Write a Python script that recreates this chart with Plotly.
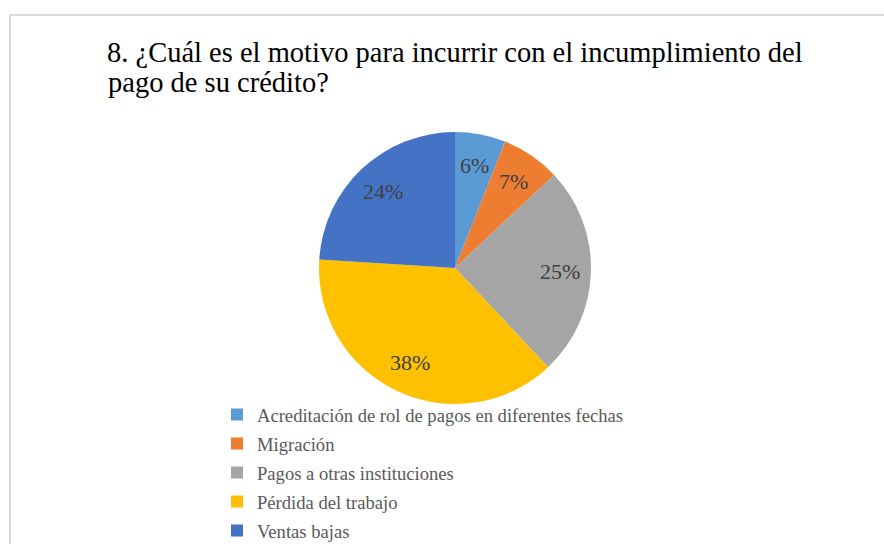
import math
import plotly.graph_objects as go

categories = [
    "Acreditación de rol de pagos en diferentes fechas",
    "Migración",
    "Pagos a otras instituciones",
    "Pérdida del trabajo",
    "Ventas bajas",
]
values = [6, 7, 25, 38, 24]
colors = ["#5B9BD5", "#ED7D31", "#A5A5A5", "#FFC000", "#4472C4"]
title_lines = [
    "8. ¿Cuál es el motivo para incurrir con el incumplimiento del",
    "pago de su crédito?",
]

W, H = 884, 544
CX, CY, R = 455, 268, 136  # pie centre / radius in pixels
LABEL_R = 0.77

legend_labels = ['<span style="font-size:18.6px">%s</span>' % c for c in categories]

fig = go.Figure(
    go.Pie(
        labels=legend_labels,
        values=values,
        sort=False,
        direction="clockwise",
        rotation=0,
        marker=dict(colors=colors, line=dict(width=0)),
        textinfo="none",
        domain=dict(x=[(CX - R) / W, (CX + R) / W], y=[1 - (CY + R) / H, 1 - (CY - R) / H]),
        hovertext=categories,
        hoverinfo="text+percent",
    )
)

# percentage labels placed along each slice's mid-angle
total = sum(values)
annotations = []
cum = 0
for v in values:
    mid = (cum + v / 2) / total * 2 * math.pi
    cum += v
    px = CX + LABEL_R * R * math.sin(mid)
    py = CY - LABEL_R * R * math.cos(mid)
    annotations.append(dict(
        x=px / W, y=1 - py / H, xref="paper", yref="paper",
        text="%d%%" % round(v / total * 100), showarrow=False,
        font=dict(family="Liberation Serif", size=22, color="#404040"),
        xanchor="center", yanchor="middle",
    ))

# second title line (tighter line spacing than plotly's multi-line titles)
annotations.append(dict(
    x=107 / W, y=1 - 82 / H, xref="paper", yref="paper",
    text=title_lines[1], showarrow=False,
    font=dict(family="Liberation Serif", size=28.5, color="#000000"),
    xanchor="left", yanchor="middle", borderpad=0,
))

fig.update_layout(
    width=W,
    height=H,
    margin=dict(l=0, r=0, t=0, b=0, autoexpand=False),
    paper_bgcolor="white",
    plot_bgcolor="white",
    font=dict(family="Liberation Serif"),
    title=dict(
        text=title_lines[0],
        x=107 / W,
        xanchor="left",
        y=1 - 52 / H,
        yanchor="middle",
        font=dict(family="Liberation Serif", size=28.5, color="#000000"),
    ),
    legend=dict(
        x=217 / W,
        y=1 - 395 / H,
        xanchor="left",
        yanchor="top",
        font=dict(family="Liberation Serif", size=20, color="#595959"),
        itemwidth=30,
        bgcolor="rgba(0,0,0,0)",
    ),
    annotations=annotations,
    shapes=[
        dict(type="line", xref="paper", yref="paper",
             x0=9 / W, x1=1, y0=1 - 15 / H, y1=1 - 15 / H,
             line=dict(color="#D9D9D9", width=2)),
        dict(type="line", xref="paper", yref="paper",
             x0=10 / W, x1=10 / W, y0=0, y1=1 - 15 / H,
             line=dict(color="#D9D9D9", width=2)),
    ],
)

fig.write_html(
    "out.html",
    config={"displayModeBar": False},
    post_script="document.body.style.margin='0';document.body.style.overflow='hidden';",
)
